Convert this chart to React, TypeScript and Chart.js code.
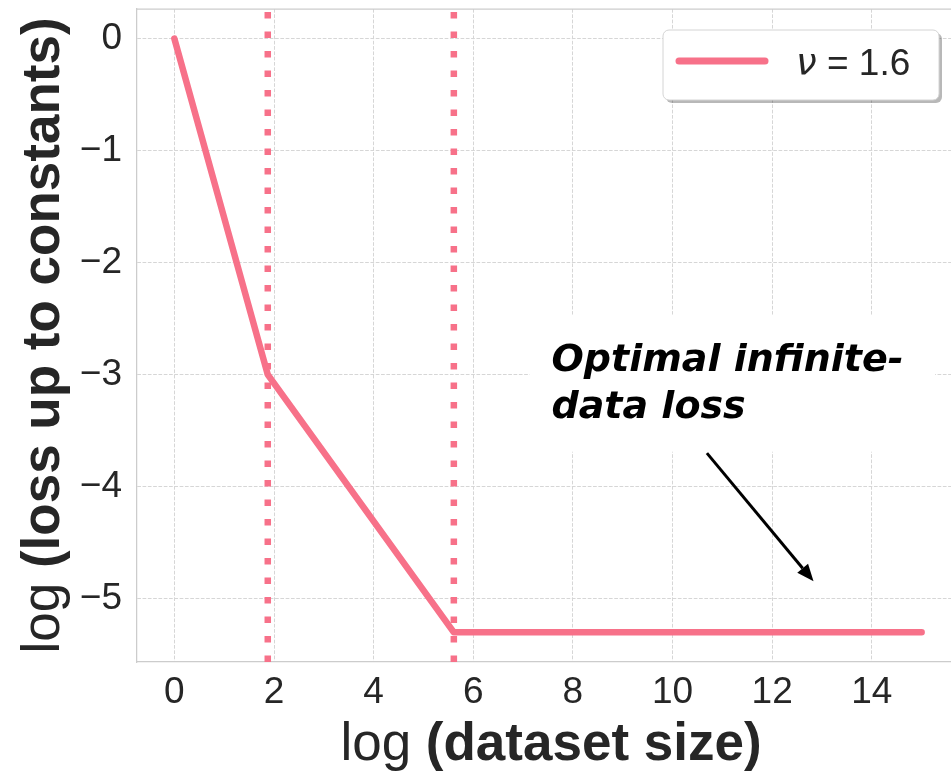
import React, { useEffect, useRef } from 'react';
import { Chart, registerables } from 'chart.js';

Chart.register(...registerables);

// ---- data ----
const xValues = [0, 1.875, 5.61, 15];
const yValues = [0, -3, -5.3, -5.3];
const breakpoints = [1.875, 5.61];
const xTicks = [0, 2, 4, 6, 8, 10, 12, 14];
const yTicks = [0, -1, -2, -3, -4, -5];
const xRange = [-0.75, 15.75];
const yRange = [-5.565, 0.265];
const legendSymbol = 'ν';
const legendRest = ' = 1.6';
const seriesLabel = legendSymbol + legendRest;
const xTitleParts = ['log ', '(dataset size)'];
const yTitleParts = ['log ', '(loss up to constants)'];
const annotationLines = ['Optimal infinite-', 'data loss'];
const annotationTextAt = [7.57, -2.969];
const annotationBox = [7.13, -2.464, 15.27, -3.688];
const arrowFrom = [10.69, -3.7];
const arrowTo = [12.83, -4.845];

const PINK = '#f77189';
const TEXT = '#262626';
const SANS = '"Liberation Sans", Arial, sans-serif';

const overlay = {
  id: 'overlay',
  beforeDatasetsDraw(chart: any) {
    const { ctx, chartArea: a, scales } = chart;
    const x = scales.x, y = scales.y;
    ctx.save();
    // annotation white box (covers grid)
    const bx0 = x.getPixelForValue(annotationBox[0]);
    const by0 = y.getPixelForValue(annotationBox[1]);
    const bx1 = x.getPixelForValue(annotationBox[2]);
    const by1 = y.getPixelForValue(annotationBox[3]);
    ctx.fillStyle = '#ffffff';
    ctx.fillRect(bx0, by0, bx1 - bx0, by1 - by0);
    // vertical dotted lines
    ctx.beginPath();
    ctx.rect(a.left, a.top, a.right - a.left, a.bottom - a.top);
    ctx.clip();
    ctx.strokeStyle = PINK;
    ctx.lineWidth = 6.5;
    ctx.lineCap = 'butt';
    ctx.setLineDash([6.5, 13]);
    for (const b of breakpoints) {
      const px = x.getPixelForValue(b);
      ctx.beginPath();
      ctx.moveTo(px, a.bottom);
      ctx.lineTo(px, a.top);
      ctx.stroke();
    }
    ctx.restore();
  },
  afterDraw(chart: any) {
    const { ctx, chartArea: a, scales } = chart;
    const x = scales.x, y = scales.y;
    ctx.save();
    // top spine
    ctx.strokeStyle = '#cccccc';
    ctx.lineWidth = 1.25;
    ctx.beginPath();
    ctx.moveTo(a.left, a.top);
    ctx.lineTo(chart.width, a.top);
    ctx.stroke();

    // annotation text
    ctx.fillStyle = '#000000';
    ctx.font = 'italic bold 38px "DejaVu Sans"';
    ctx.textBaseline = 'alphabetic';
    ctx.textAlign = 'left';
    const tx = x.getPixelForValue(annotationTextAt[0]);
    const ty = y.getPixelForValue(annotationTextAt[1]);
    annotationLines.forEach((s, i) => ctx.fillText(s, tx, ty + i * 46.5));

    // arrow
    const ax0 = x.getPixelForValue(arrowFrom[0]);
    const ay0 = y.getPixelForValue(arrowFrom[1]);
    const ax1 = x.getPixelForValue(arrowTo[0]);
    const ay1 = y.getPixelForValue(arrowTo[1]);
    const ang = Math.atan2(ay1 - ay0, ax1 - ax0);
    const hl = 17, hw = 7;
    const bxp = ax1 - hl * Math.cos(ang), byp = ay1 - hl * Math.sin(ang);
    ctx.strokeStyle = '#000000';
    ctx.lineWidth = 3;
    ctx.beginPath();
    ctx.moveTo(ax0, ay0);
    ctx.lineTo(bxp, byp);
    ctx.stroke();
    ctx.beginPath();
    ctx.moveTo(ax1, ay1);
    ctx.lineTo(bxp + hw * Math.sin(ang), byp - hw * Math.cos(ang));
    ctx.lineTo(bxp - hw * Math.sin(ang), byp + hw * Math.cos(ang));
    ctx.closePath();
    ctx.fillStyle = '#000000';
    ctx.fill();

    // legend
    const lx = a.right - 296, ly = a.top + 21, lw = 276, lh = 70;
    const rr = (ox: number, oy: number) => {
      ctx.beginPath();
      ctx.roundRect(lx + ox, ly + oy, lw, lh, 6);
    };
    ctx.fillStyle = 'rgba(0,0,0,0.28)';
    rr(3, 3);
    ctx.fill();
    ctx.fillStyle = '#ffffff';
    rr(0, 0);
    ctx.fill();
    ctx.strokeStyle = '#d4d4d4';
    ctx.lineWidth = 1;
    ctx.stroke();
    ctx.strokeStyle = PINK;
    ctx.lineWidth = 7;
    ctx.lineCap = 'round';
    ctx.beginPath();
    ctx.moveTo(lx + 16, ly + 31);
    ctx.lineTo(lx + 102, ly + 31);
    ctx.stroke();
    ctx.fillStyle = TEXT;
    ctx.font = 'italic 37px "DejaVu Sans"';
    ctx.fillText(legendSymbol, lx + 133, ly + 45);
    const nuW = ctx.measureText(legendSymbol).width;
    ctx.font = '37px ' + SANS;
    ctx.fillText(legendRest, lx + 133 + nuW, ly + 45);

    // x title
    ctx.fillStyle = TEXT;
    ctx.font = '53px ' + SANS;
    const w0 = ctx.measureText(xTitleParts[0]).width;
    ctx.font = 'bold 53px ' + SANS;
    const w1 = ctx.measureText(xTitleParts[1]).width;
    const cx = (a.left + a.right) / 2 + 3;
    const start = cx - (w0 + w1) / 2;
    ctx.font = '53px ' + SANS;
    ctx.fillText(xTitleParts[0], start, 760);
    ctx.font = 'bold 53px ' + SANS;
    ctx.fillText(xTitleParts[1], start + w0, 760);

    // y title
    ctx.translate(58.5, (a.top + a.bottom) / 2);
    ctx.rotate(-Math.PI / 2);
    ctx.font = '53px ' + SANS;
    const v0 = ctx.measureText(yTitleParts[0]).width;
    ctx.font = 'bold 53px ' + SANS;
    const v1 = ctx.measureText(yTitleParts[1]).width;
    const s2 = -(v0 + v1) / 2;
    ctx.font = '53px ' + SANS;
    ctx.fillText(yTitleParts[0], s2, 0);
    ctx.font = 'bold 53px ' + SANS;
    ctx.fillText(yTitleParts[1], s2 + v0, 0);
    ctx.restore();
  },
};

export default function App() {
  const ref = useRef<HTMLCanvasElement>(null);
  useEffect(() => {
    if (!ref.current) return;
    const chart = new Chart(ref.current, {
      type: 'line',
      data: {
        datasets: [
          {
            label: seriesLabel,
            data: xValues.map((v, i) => ({ x: v, y: yValues[i] })),
            borderColor: PINK,
            backgroundColor: PINK,
            borderWidth: 6.5,
            borderCapStyle: 'round',
            borderJoinStyle: 'round',
            pointRadius: 0,
            tension: 0,
          },
        ],
      },
      options: {
        responsive: false,
        animation: false,
        layout: { padding: { left: 0, top: 9, right: 11, bottom: 0 } },
        plugins: { legend: { display: false }, tooltip: { enabled: false } },
        scales: {
          x: {
            type: 'linear',
            min: xRange[0],
            max: xRange[1],
            afterFit(s: any) { s.height = 110; s.paddingLeft = 0; s.paddingRight = 0; },
            afterBuildTicks(s: any) { s.ticks = xTicks.map((v) => ({ value: v })); },
            grid: { color: '#d6d6d6', lineWidth: 1, drawTicks: false },
            border: { color: '#cccccc', width: 1.25, dash: [3.7, 1.6] },
            ticks: {
              color: TEXT,
              padding: 9,
              maxRotation: 0,
              font: { family: SANS, size: 37 },
              callback: (v: any) => String(v),
            },
          },
          y: {
            type: 'linear',
            min: yRange[0],
            max: yRange[1],
            afterFit(s: any) { s.width = 137; s.paddingTop = 0; s.paddingBottom = 0; },
            afterBuildTicks(s: any) { s.ticks = yTicks.map((v) => ({ value: v })); },
            grid: { color: '#d6d6d6', lineWidth: 1, drawTicks: false },
            border: { color: '#cccccc', width: 1.25, dash: [3.7, 1.6] },
            ticks: {
              color: TEXT,
              padding: 15,
              font: { family: SANS, size: 37 },
              callback: (v: any) => (v < 0 ? '\u2212' + Math.abs(v) : String(v)),
            },
          },
        },
      },
      plugins: [overlay],
    });
    return () => chart.destroy();
  }, []);
  return (
    <div style={{ position: 'fixed', left: 0, top: 0, width: 951, height: 772, overflow: 'hidden', background: '#fff' }}>
      <canvas ref={ref} width={970} height={772} style={{ display: 'block', width: 970, height: 772 }} />
    </div>
  );
}
